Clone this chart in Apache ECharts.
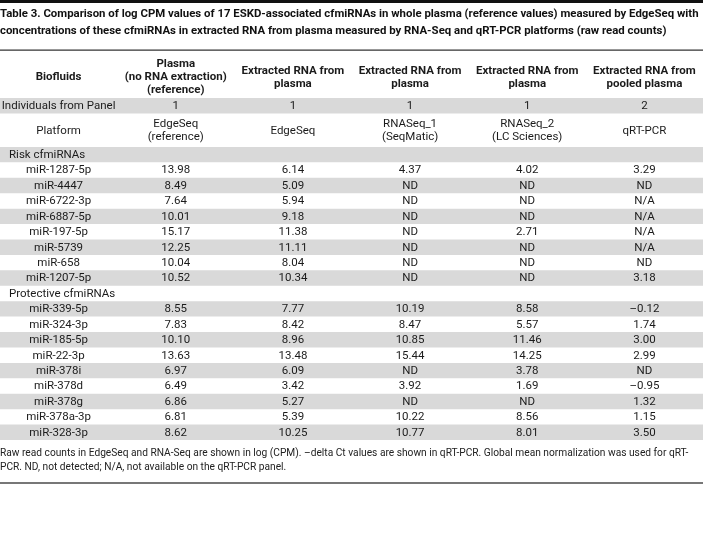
<!DOCTYPE html>
<html>
<head>
<meta charset="utf-8">
<script src="https://cdn.jsdelivr.net/npm/echarts@6/dist/echarts.min.js"></script>
<style>
html, body { margin: 0; padding: 0; background: #fff; }
#main { width: 703px; height: 540px; }
</style>
</head>
<body>
<div id="main"></div>
<script>
const titleLines = [
  "Table 3. Comparison of log CPM values of 17 ESKD-associated cfmiRNAs in whole plasma (reference values) measured by EdgeSeq with",
  "concentrations of these cfmiRNAs in extracted RNA from plasma measured by RNA-Seq and qRT-PCR platforms (raw read counts)"
];
const footLines = [
  "Raw read counts in EdgeSeq and RNA-Seq are shown in log (CPM). –delta Ct values are shown in qRT-PCR. Global mean normalization was used for qRT-",
  "PCR. ND, not detected; N/A, not available on the qRT-PCR panel."
];

const headers = [
  "Biofluids",
  "Plasma\n(no RNA extraction)\n(reference)",
  "Extracted RNA from\nplasma",
  "Extracted RNA from\nplasma",
  "Extracted RNA from\nplasma",
  "Extracted RNA from\npooled plasma"
];
const panelRow = ["Individuals from Panel", "1", "1", "1", "1", "2"];
const platformRow = ["Platform", "EdgeSeq\n(reference)", "EdgeSeq", "RNASeq_1\n(SeqMatic)", "RNASeq_2\n(LC Sciences)", "qRT-PCR"];

const riskLabel = "Risk cfmiRNAs";
const riskMirnas = ["miR-1287-5p", "miR-4447", "miR-6722-3p", "miR-6887-5p", "miR-197-5p", "miR-5739", "miR-658", "miR-1207-5p"];
const riskEdgeSeqRef = ["13.98", "8.49", "7.64", "10.01", "15.17", "12.25", "10.04", "10.52"];
const riskEdgeSeq = ["6.14", "5.09", "5.94", "9.18", "11.38", "11.11", "8.04", "10.34"];
const riskRnaSeq1 = ["4.37", "ND", "ND", "ND", "ND", "ND", "ND", "ND"];
const riskRnaSeq2 = ["4.02", "ND", "ND", "ND", "2.71", "ND", "ND", "ND"];
const riskQrtPcr = ["3.29", "ND", "N/A", "N/A", "N/A", "N/A", "ND", "3.18"];

const protLabel = "Protective cfmiRNAs";
const protMirnas = ["miR-339-5p", "miR-324-3p", "miR-185-5p", "miR-22-3p", "miR-378i", "miR-378d", "miR-378g", "miR-378a-3p", "miR-328-3p"];
const protEdgeSeqRef = ["8.55", "7.83", "10.10", "13.63", "6.97", "6.49", "6.86", "6.81", "8.62"];
const protEdgeSeq = ["7.77", "8.42", "8.96", "13.48", "6.09", "3.42", "5.27", "5.39", "10.25"];
const protRnaSeq1 = ["10.19", "8.47", "10.85", "15.44", "ND", "3.92", "ND", "10.22", "10.77"];
const protRnaSeq2 = ["8.58", "5.57", "11.46", "14.25", "3.78", "1.69", "ND", "8.56", "8.01"];
const protQrtPcr = ["–0.12", "1.74", "3.00", "2.99", "ND", "–0.95", "1.32", "1.15", "3.50"];

const FONT = 'Roboto, "Noto Sans", sans-serif';
const TXT = "#1b1b1b";
const GREY = "#d9d9d9";

// build table rows (row height in row-units)
const rows = [];
rows.push({ cells: headers, span: 3.05, bold: true, grey: false });
rows.push({ cells: panelRow, span: 1, grey: true });
rows.push({ cells: platformRow, span: 2.17, grey: false });
const body = [];
body.push({ section: riskLabel });
riskMirnas.forEach((m, i) => body.push({ cells: [m, riskEdgeSeqRef[i], riskEdgeSeq[i], riskRnaSeq1[i], riskRnaSeq2[i], riskQrtPcr[i]] }));
body.push({ section: protLabel });
protMirnas.forEach((m, i) => body.push({ cells: [m, protEdgeSeqRef[i], protEdgeSeq[i], protRnaSeq1[i], protRnaSeq2[i], protQrtPcr[i]] }));
body.forEach((r, i) => rows.push(Object.assign({ span: 1, grey: i % 2 === 0 }, r)));

const cells = [];
const bands = [];
let yPos = 0;
rows.forEach((r) => {
  if (r.grey) bands.push([yPos, r.span]);
  if (r.section) {
    cells.push({ value: [0, yPos, r.span], text: r.section, left: true });
  } else {
    r.cells.forEach((t, c) => cells.push({ value: [c, yPos, r.span], text: t, bold: !!r.bold }));
  }
  yPos += r.span;
});
const totalUnits = yPos;

const chart = echarts.init(document.getElementById("main"));
chart.setOption({
  animation: false,
  title: [
    {
      text: titleLines.join("\n"),
      left: 0,
      top: 6,
      padding: 0,
      textStyle: { fontFamily: FONT, fontWeight: "bold", fontSize: 11.4, lineHeight: 17, color: "#111" }
    },
    {
      text: footLines.join("\n"),
      left: 0,
      top: 446,
      padding: 0,
      textStyle: { fontFamily: FONT, fontWeight: "normal", fontSize: 10.2, lineHeight: 14.5, color: "#222" }
    }
  ],
  graphic: [
    { type: "rect", shape: { x: 0, y: 0, width: 703, height: 3 }, style: { fill: "#111" } },
    { type: "rect", shape: { x: 0, y: 49.5, width: 703, height: 1.2 }, style: { fill: "#333" } },
    { type: "rect", shape: { x: 0, y: 482, width: 703, height: 2 }, style: { fill: "#777" } }
  ],
  grid: { left: 0, right: 0, top: 51, height: 389 },
  xAxis: { type: "value", min: 0, max: 6, show: false },
  yAxis: { type: "value", min: 0, max: totalUnits, inverse: true, show: false },
  series: [
    {
      type: "custom",
      silent: true,
      data: bands,
      renderItem: (params, api) => {
        const p0 = api.coord([0, api.value(0)]);
        const p1 = api.coord([6, api.value(0) + api.value(1)]);
        return { type: "rect", shape: { x: p0[0], y: p0[1], width: p1[0] - p0[0], height: p1[1] - p0[1] }, style: { fill: GREY } };
      }
    },
    {
      type: "custom",
      silent: true,
      data: cells,
      renderItem: (params, api) => {
        const d = cells[params.dataIndex];
        const c = api.value(0), y0 = api.value(1), span = api.value(2);
        const p0 = api.coord([c, y0]);
        const p1 = api.coord([c + 1, y0 + span]);
        return {
          type: "text",
          style: {
            x: d.left ? p0[0] + 9 : (p0[0] + p1[0]) / 2,
            y: (p0[1] + p1[1]) / 2 + (d.bold ? 3 : 0.5),
            text: d.text,
            align: d.left ? "left" : "center",
            verticalAlign: "middle",
            fontFamily: FONT,
            fontWeight: d.bold ? "bold" : "normal",
            fontSize: 11.5,
            lineHeight: 13,
            fill: TXT
          }
        };
      }
    }
  ]
});
</script>
</body>
</html>
